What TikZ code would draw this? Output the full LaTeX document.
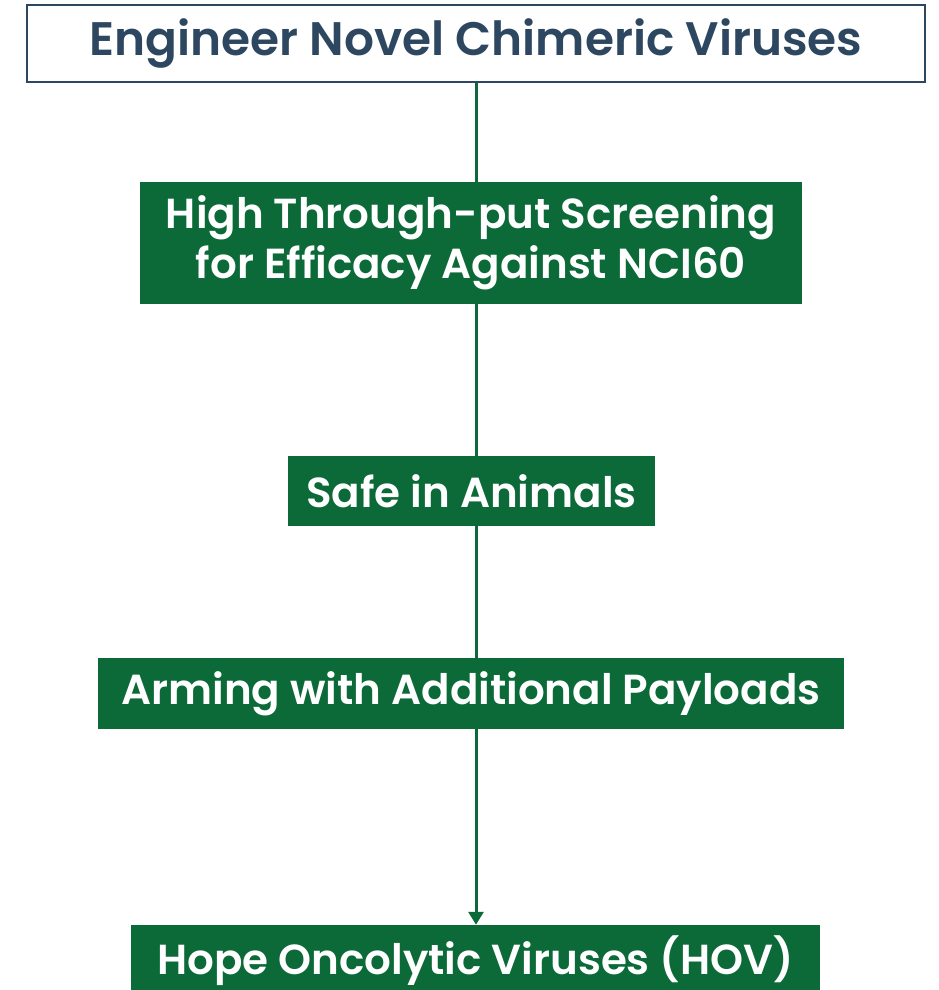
\documentclass[tikz,border=0pt]{standalone}
\usepackage{fontspec}
\setmainfont{Poppins}[BoldFont={Poppins SemiBold}]
\usetikzlibrary{positioning,arrows.meta}
\definecolor{hovgreen}{HTML}{0B6A38}
\definecolor{hovnavy}{HTML}{2E4760}

\begin{document}
\begin{tikzpicture}[x=1pt, y=-1pt, line width=0.5pt,
    stage/.style={fill=hovgreen, text=white, inner sep=0pt, align=center,
      font=\bfseries\fontsize{42}{50}\selectfont},
    link/.style={draw=hovgreen, line width=3pt}]
    \useasboundingbox (0,0) rectangle (938,990);
    % top box
    \node[draw=hovnavy, line width=2pt, fill=white, text=hovnavy, inner sep=0pt,
      minimum width=898pt, minimum height=77pt,
      font=\bfseries\fontsize{47}{52}\selectfont] (engineer) at (476,43.5) {Engineer Novel Chimeric Viruses};
    % stages
    \node[stage, minimum width=662pt, minimum height=122pt] (screen) at (471,243)
      {High Through-put Screening\\for Efficacy Against NCI60};
    \node[stage, minimum width=367pt, minimum height=70pt] (safe) at (471.5,491) {Safe in Animals};
    \node[stage, minimum width=746pt, minimum height=71pt] (arming) at (471,693.5) {Arming with Additional Payloads};
    \node[stage, minimum width=689pt, minimum height=71pt] (hov) at (475.5,960.5) {Hope Oncolytic Viruses (HOV)};
    % connectors
    \draw[link] (engineer.south -| 476,0) -- (screen.north -| 476,0);
    \draw[link] (screen.south -| 476,0) -- (safe.north -| 476,0);
    \draw[link] (safe.south -| 476,0) -- (arming.north -| 476,0);
    \draw[link, -{Triangle[length=13pt, width=15pt]}] (arming.south -| 476,0) -- (hov.north -| 476,0);
  \end{tikzpicture}
\end{document}
